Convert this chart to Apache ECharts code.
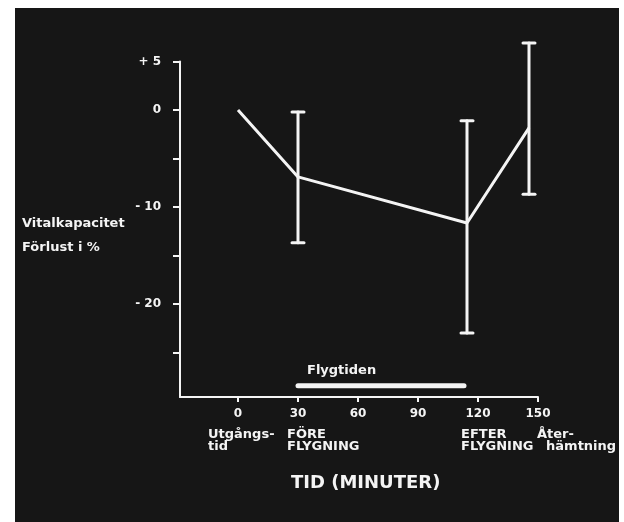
<!DOCTYPE html>
<html><head><meta charset="utf-8">
<script src="https://cdn.jsdelivr.net/npm/echarts@6/dist/echarts.min.js"></script>
<style>
html,body{margin:0;padding:0;background:#fff;width:624px;height:522px;overflow:hidden;}
#bg{position:absolute;left:15px;top:8px;width:604px;height:514px;background:#161616;}
#chart{position:absolute;left:0;top:0;width:624px;height:522px;}
</style></head>
<body><div id="bg"></div><div id="chart"></div>
<script>
// Time (minutes) and vital capacity loss (%)
const times = [0, 30, 114.5, 145.5];
const means = [0, -6.9, -11.65, -1.85];
const errLow = [null, -13.7, -23.0, -8.7];
const errHigh = [null, -0.2, -1.1, 6.9];
const flightPeriod = [30, 113];
const flightBarLevel = -28.45;
const xTicks = [0, 30, 60, 90, 120, 150];
const yTicks = [5, 0, -5, -10, -15, -20, -25];
const yLabelValues = [5, 0, -10, -20];
const yTickLabels = {"5": "+ 5", "0": "0", "-10": "- 10", "-20": "- 20"};
const phaseLabels = ["Utgångs-\ntid", "FÖRE\nFLYGNING", "EFTER\nFLYGNING", "Åter-\n  hämtning"];

const W = '#f4f4f4';
const F = 'DejaVu Sans';
const FONT = 'bold 13px "DejaVu Sans"';
const chart = echarts.init(document.getElementById('chart'), null, {renderer: 'canvas'});

const errData = [];
for (let i = 0; i < times.length; i++) {
  if (errLow[i] !== null) errData.push([times[i], errLow[i], errHigh[i]]);
}

chart.setOption({
  backgroundColor: 'transparent',
  animation: false,
  grid: {left: 180, right: 86, top: 61.5, bottom: 125},
  xAxis: {
    type: 'value', min: -29, max: 150,
    splitLine: {show: false},
    axisLine: {onZero: false, lineStyle: {color: W, width: 2}},
    axisTick: {show: true, length: 5, customValues: xTicks, lineStyle: {color: W, width: 2}},
    axisLabel: {color: W, fontFamily: F, fontWeight: 'bold', fontSize: 12, margin: 11,
      customValues: xTicks}
  },
  yAxis: {
    type: 'value', min: -29.6, max: 5,
    splitLine: {show: false},
    axisLine: {onZero: false, lineStyle: {color: W, width: 2}},
    axisTick: {show: true, length: 7, customValues: yTicks, lineStyle: {color: W, width: 2}},
    axisLabel: {color: W, fontFamily: F, fontWeight: 'bold', fontSize: 12, margin: 19,
      customValues: yLabelValues, formatter: v => yTickLabels[String(v)] || ''}
  },
  series: [
    {
      type: 'line', data: times.map((t, i) => [t, means[i]]),
      symbol: 'none', lineStyle: {color: W, width: 3}, z: 3
    },
    {
      type: 'line', data: [[flightPeriod[0], flightBarLevel], [flightPeriod[1], flightBarLevel]],
      symbol: 'none', lineStyle: {color: W, width: 5, cap: 'round'}, z: 3
    },
    {
      type: 'custom', clip: false, z: 4,
      data: errData,
      renderItem: function (params, api) {
        const x = api.value(0);
        const lo = api.coord([x, api.value(1)]);
        const hi = api.coord([x, api.value(2)]);
        const hw = 6;
        const st = {stroke: W, lineWidth: 3, lineCap: 'round'};
        return {
          type: 'group', children: [
            {type: 'line', shape: {x1: lo[0], y1: lo[1], x2: hi[0], y2: hi[1]}, style: st},
            {type: 'line', shape: {x1: lo[0] - hw, y1: lo[1], x2: lo[0] + hw, y2: lo[1]}, style: st},
            {type: 'line', shape: {x1: hi[0] - hw, y1: hi[1], x2: hi[0] + hw, y2: hi[1]}, style: st}
          ]
        };
      }
    }
  ],
  graphic: [
    {type: 'text', x: 22, y: 224, style: {text: 'Vitalkapacitet', fill: W, font: FONT, textVerticalAlign: 'middle'}},
    {type: 'text', x: 22, y: 248, style: {text: 'Förlust i %', fill: W, font: FONT, textVerticalAlign: 'middle'}},
    {type: 'text', x: 307, y: 371, style: {text: 'Flygtiden', fill: W, font: FONT, textVerticalAlign: 'middle'}},
    {type: 'text', x: 208, y: 429, style: {text: phaseLabels[0], fill: W, font: FONT, lineHeight: 12}},
    {type: 'text', x: 287, y: 429, style: {text: phaseLabels[1], fill: W, font: FONT, lineHeight: 12}},
    {type: 'text', x: 461, y: 429, style: {text: phaseLabels[2], fill: W, font: FONT, lineHeight: 12}},
    {type: 'text', x: 537, y: 429, style: {text: phaseLabels[3], fill: W, font: FONT, lineHeight: 12}},
    {type: 'text', x: 291, y: 483, style: {text: 'TID (MINUTER)', fill: W, font: 'bold 18px "DejaVu Sans"', textVerticalAlign: 'middle'}}
  ]
});
</script></body></html>
